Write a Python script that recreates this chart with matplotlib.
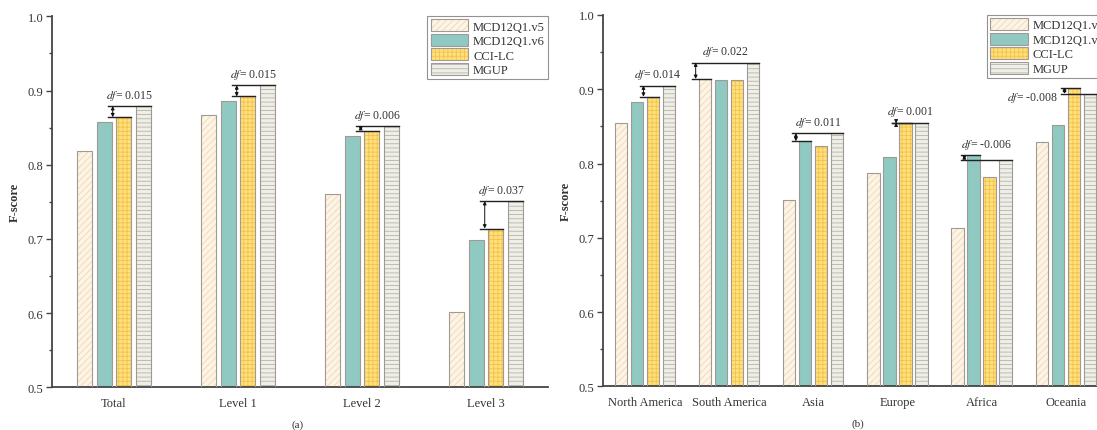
import matplotlib
matplotlib.use("Agg")
import matplotlib.pyplot as plt
import numpy as np
from matplotlib.legend_handler import HandlerTuple

plt.rcParams['font.family'] = ['Liberation Serif', 'DejaVu Serif']
plt.rcParams['mathtext.fontset'] = 'stix'
plt.rcParams['hatch.linewidth'] = 0.6

series = ['MCD12Q1.v5', 'MCD12Q1.v6', 'CCI-LC', 'MGUP']

cats_a = ['Total', 'Level 1', 'Level 2', 'Level 3']
v5_a = [0.818, 0.867, 0.761, 0.601]
v6_a = [0.857, 0.886, 0.839, 0.699]
cci_a = [0.864, 0.892, 0.846, 0.714]
mgup_a = [0.879, 0.907, 0.852, 0.751]
df_a = ['0.015', '0.015', '0.006', '0.037']

cats_b = ['North America', 'South America', 'Asia', 'Europe', 'Africa', 'Oceania']
v5_b = [0.855, 0.914, 0.751, 0.787, 0.713, 0.829]
v6_b = [0.883, 0.913, 0.830, 0.809, 0.811, 0.852]
cci_b = [0.890, 0.913, 0.823, 0.854, 0.782, 0.902]
mgup_b = [0.905, 0.936, 0.841, 0.855, 0.805, 0.894]
df_b = ['0.014', '0.022', '0.011', '0.001', '-0.006', '-0.008']

faces = ['#FDF4E4', '#8FC9C2', '#FFE07E', '#EFEFE8']
hatch_cols = ['#EBD8BA', '#84BDB6', '#F2C24A', '#B4B4AC']
hatches = ['/////', '', '++++', '----']
outline = '#A09A92'
txtcol = '#333333'

W = 1097
H = 431
fig = plt.figure(figsize=(W / 100, H / 100), dpi=100)
ax_a = fig.add_axes([52 / W, (H - 388.3) / H, (548 - 52) / W, (388.3 - 17.3) / H])
ax_b = fig.add_axes([602.7 / W, (H - 387.3) / H, (1108 - 602.7) / W, (387.3 - 16) / H])


def draw(ax, cats, data, dfs, width, step, fs_df, overrides):
    x = np.arange(len(cats))
    handles = []
    for i, vals in enumerate(data):
        pos = x + (i - 1.5) * step
        b1 = ax.bar(pos, vals, width, bottom=0, color=faces[i], edgecolor=hatch_cols[i],
                    hatch=hatches[i], linewidth=0, zorder=2)
        b2 = ax.bar(pos, vals, width, bottom=0, fill=False, edgecolor=outline,
                    linewidth=0.8, zorder=3)
        handles.append((b1[0], b2[0]))
    # df annotations
    for g in range(len(cats)):
        others = [data[k][g] for k in range(3)]
        ref = int(np.argmax(others))
        refv = others[ref]
        mv = data[3][g]
        refx = x[g] + (ref - 1.5) * step
        mx = x[g] + 1.5 * step
        start = refx - width / 2 - 0.55 * width
        ax.plot([start, mx + width / 2], [mv, mv], color='#222222', lw=1.0, zorder=4)
        ax.plot([start, refx + width / 2], [refv, refv], color='#222222', lw=1.0, zorder=4)
        ax.annotate('', xy=(start + 0.3 * width, mv), xytext=(start + 0.3 * width, refv),
                    arrowprops=dict(arrowstyle='<|-|>', color='#111111', lw=0.7,
                                    mutation_scale=5, shrinkA=0, shrinkB=0), zorder=5)
        top = max(mv, refv)
        tx = (start + mx + width / 2) / 2
        ty = top + 0.006
        if g in overrides:
            tx, ty = x[g] + overrides[g][0], overrides[g][1]
        ax.text(tx, ty, r'$df$= ' + dfs[g], ha='center', va='bottom',
                fontsize=fs_df, color=txtcol, zorder=6)
    ax.set_xlim(-0.5, len(cats) - 0.5)
    ax.set_ylim(0.5, 1.0)
    ax.set_xticks(x)
    ax.set_xticklabels(cats)
    ax.set_yticks([0.5, 0.6, 0.7, 0.8, 0.9, 1.0])
    ax.set_yticklabels(['0.5', '0.6', '0.7', '0.8', '0.9', '1.0'])
    ax.set_yticks(np.arange(0.55, 1.0, 0.1), minor=True)
    ax.tick_params(axis='x', length=0, pad=7, labelsize=9, colors=txtcol)
    ax.tick_params(axis='y', which='major', length=4, width=1.0, pad=2,
                   labelsize=9, colors='#444444', labelcolor=txtcol)
    ax.tick_params(axis='y', which='minor', length=2.5, width=1.0, colors='#444444')
    for s in ['top', 'right']:
        ax.spines[s].set_visible(False)
    for s in ['left', 'bottom']:
        ax.spines[s].set_linewidth(1.3)
        ax.spines[s].set_color('#444444')
    ax.set_ylabel('F-score', fontsize=9, fontweight='bold', color=txtcol, labelpad=5)
    leg = ax.legend(handles, series, loc='upper right', bbox_to_anchor=(1.0, 1.0),
                    handler_map={tuple: HandlerTuple(ndivide=1)},
                    fontsize=9, frameon=True, fancybox=False, borderaxespad=0,
                    handlelength=3.0, handleheight=1.1, handletextpad=0.4,
                    labelspacing=0.1, borderpad=0.25)
    leg.get_frame().set_edgecolor('#777777')
    leg.get_frame().set_linewidth(0.8)
    for t in leg.get_texts():
        t.set_color(txtcol)


draw(ax_a, cats_a, [v5_a, v6_a, cci_a, mgup_a], df_a, 0.121, 0.161, 8.5, {})
draw(ax_b, cats_b, [v5_b, v6_b, cci_b, mgup_b], df_b, 0.148, 0.19, 8.5,
     {5: (-0.4, 0.880)})

fig.text(298 / W, 1 - 425 / H, '(a)', ha='center', va='center', fontsize=8, color=txtcol)
fig.text(858 / W, 1 - 424 / H, '(b)', ha='center', va='center', fontsize=8, color=txtcol)

fig.savefig('out.png', dpi=100)
